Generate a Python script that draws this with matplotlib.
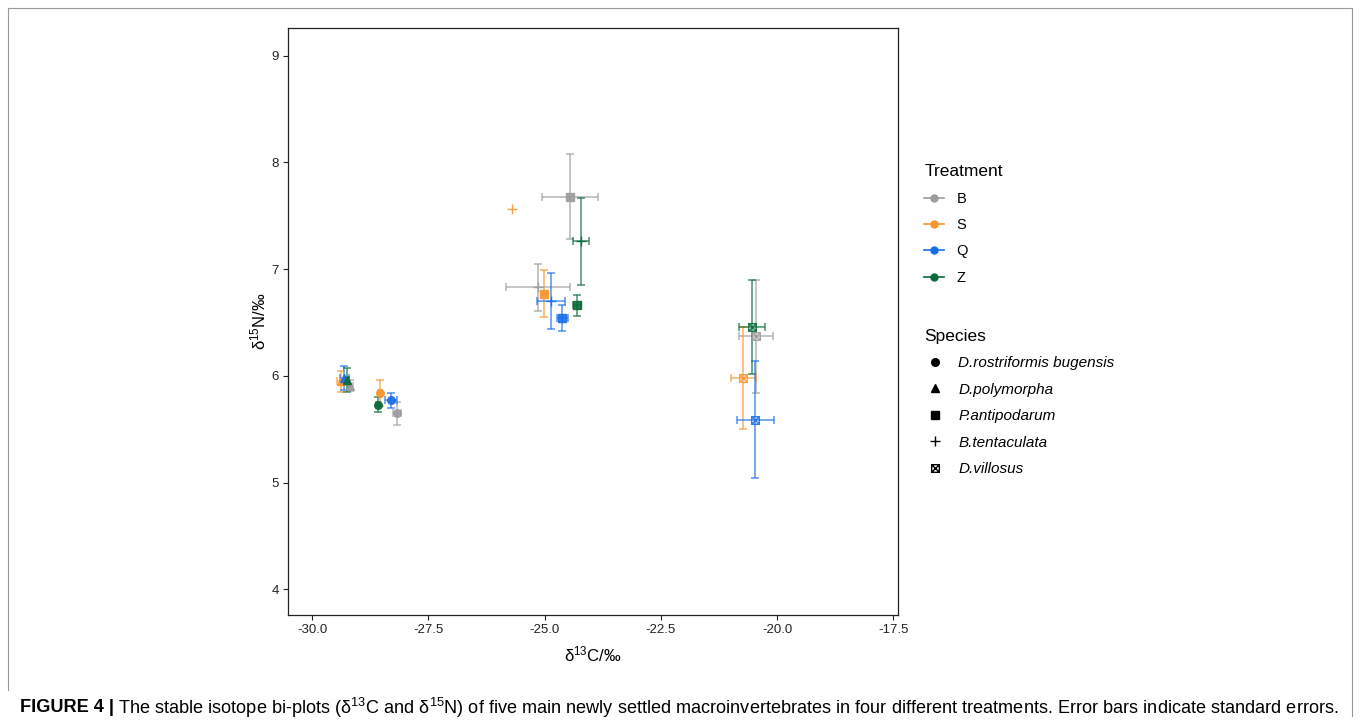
import numpy as np
import matplotlib
matplotlib.use("Agg")
import matplotlib.pyplot as plt
from matplotlib.path import Path
from matplotlib.lines import Line2D
from matplotlib import font_manager

plt.rcParams['font.family'] = ['Liberation Sans', 'DejaVu Sans']
plt.rcParams['mathtext.fontset'] = 'custom'
plt.rcParams['mathtext.rm'] = 'Liberation Sans'
plt.rcParams['mathtext.it'] = 'Liberation Sans:italic'

# treatments and species
treatments = ['B', 'S', 'Q', 'Z']
treat_colors = {'B': '#9c9c9c', 'S': '#f7962f', 'Q': '#1a6ee8', 'Z': '#0b6a3a'}
species = ['D.rostriformis bugensis', 'D.polymorpha', 'P.antipodarum',
           'B.tentaculata', 'D.villosus']

# one row per treatment x species: mean and standard error
pt_treat = ['B', 'S', 'Q', 'Z',
            'B', 'S', 'Q', 'Z',
            'B', 'S', 'Q', 'Z',
            'B', 'S', 'Q', 'Z',
            'B', 'S', 'Q', 'Z']
pt_species = ['D.rostriformis bugensis'] * 4 + ['D.polymorpha'] * 4 + \
             ['P.antipodarum'] * 4 + ['B.tentaculata'] * 4 + ['D.villosus'] * 4
d13c = [-28.17, -28.54, -28.30, -28.58,
        -29.18, -29.38, -29.31, -29.25,
        -24.45, -25.01, -24.62, -24.30,
        -25.14, -25.70, -24.86, -24.21,
        -20.45, -20.73, -20.47, -20.54]
d13c_se = [0.09, 0.04, 0.13, 0.04,
           0.06, 0.08, 0.10, 0.05,
           0.60, 0.05, 0.12, 0.08,
           0.69, np.nan, 0.30, 0.17,
           0.37, 0.27, 0.40, 0.29]
d15n = [5.65, 5.84, 5.77, 5.73,
        5.91, 5.95, 5.98, 5.96,
        7.68, 6.77, 6.54, 6.66,
        6.83, 7.56, 6.70, 7.26,
        6.37, 5.98, 5.59, 6.46]
d15n_se = [0.11, 0.12, 0.07, 0.07,
           0.05, 0.10, 0.11, 0.11,
           0.40, 0.22, 0.12, 0.10,
           0.22, np.nan, 0.26, 0.41,
           0.53, 0.48, 0.55, 0.44]

# square with a cross (ggplot shape 7)
boxx = Path([(-1, -1), (1, -1), (1, 1), (-1, 1), (-1, -1),
             (-1, -1), (1, 1), (-1, 1), (1, -1)],
            [Path.MOVETO, Path.LINETO, Path.LINETO, Path.LINETO, Path.CLOSEPOLY,
             Path.MOVETO, Path.LINETO, Path.MOVETO, Path.LINETO])
sp_marker = {'D.rostriformis bugensis': ('o', 5.5, True),
             'D.polymorpha': ('^', 5.5, True),
             'P.antipodarum': ('s', 5.5, True),
             'B.tentaculata': ('+', 7.5, False),
             'D.villosus': (boxx, 5.5, False)}

fig = plt.figure(figsize=(13.6, 7.28), dpi=100)
ax = fig.add_axes([288/1360, 1-615/728, 610/1360, 587/728])

for i in range(len(d13c)):
    c = treat_colors[pt_treat[i]]
    m, ms, filled = sp_marker[pt_species[i]]
    xe = None if np.isnan(d13c_se[i]) else d13c_se[i]
    ye = None if np.isnan(d15n_se[i]) else d15n_se[i]
    if xe is not None or ye is not None:
        ax.errorbar(d13c[i], d15n[i], xerr=xe, yerr=ye, fmt='none',
                    ecolor=c, alpha=0.75, elinewidth=1.1, capsize=2.6,
                    capthick=1.1, zorder=2)
    ax.plot(d13c[i], d15n[i], linestyle='none', marker=m, markersize=ms,
            color=c, markerfacecolor=c if filled else 'none',
            markeredgewidth=1.0, alpha=0.9, zorder=3)

ax.set_xlim(-30.52, -17.4)
ax.set_ylim(3.76, 9.26)
ax.set_xticks([-30, -27.5, -25, -22.5, -20, -17.5])
ax.set_xticklabels(['-30.0', '-27.5', '-25.0', '-22.5', '-20.0', '-17.5'])
ax.set_yticks([4, 5, 6, 7, 8, 9])
ax.tick_params(direction='out', length=3.5, width=0.8, labelsize=9.5,
               colors='#222222', labelcolor='#222222', pad=3)
for s in ax.spines.values():
    s.set_linewidth(0.9)
    s.set_color('#222222')
ax.set_xlabel(r'$\mathregular{\delta^{13}C/‰}$', fontsize=12, labelpad=6)
ax.set_ylabel(r'$\mathregular{\delta^{15}N/‰}$', fontsize=12, labelpad=2)

# legends
t_handles = [Line2D([0], [0], color=treat_colors[t], marker='o', markersize=5,
                    linewidth=1.2) for t in treatments]
leg1 = fig.legend(t_handles, treatments, title='Treatment', loc='upper left',
                  bbox_to_anchor=(917/1360, 1-157/728), frameon=False,
                  fontsize=10.5, title_fontsize=12.5, labelspacing=0.85,
                  handlelength=1.35, handletextpad=0.85, borderpad=0)
leg1._legend_box.align = 'left'
s_handles = []
for sp in species:
    m, ms, filled = sp_marker[sp]
    s_handles.append(Line2D([0], [0], linestyle='none', marker=m, markersize=ms,
                            color='black',
                            markerfacecolor='black' if filled else 'none'))
leg2 = fig.legend(s_handles, species, title='Species', loc='upper left',
                  bbox_to_anchor=(917/1360, 1-321/728), frameon=False,
                  title_fontsize=12.5, labelspacing=0.82,
                  handlelength=1.35, handletextpad=0.85, borderpad=0,
                  prop={'style': 'italic', 'size': 11})
leg2._legend_box.align = 'left'

# figure frame
fig.add_artist(Line2D([8/1360, 1352/1360], [1-8/728, 1-8/728], color='#999999', lw=0.8))
fig.add_artist(Line2D([8/1360, 8/1360], [1-8/728, 1-690/728], color='#999999', lw=0.8))
fig.add_artist(Line2D([1352/1360, 1352/1360], [1-8/728, 1-716/728], color='#999999', lw=0.8))

# caption
names = {f.name for f in font_manager.fontManager.ttflist}
cap_font = ['Liberation Sans Narrow', 'Liberation Sans', 'DejaVu Sans'] \
    if 'Liberation Sans Narrow' in names else ['Liberation Sans', 'DejaVu Sans']
cap_y = 1 - 708/728
t1 = fig.text(20/1360, cap_y, 'FIGURE 4 |', fontsize=12, fontweight='bold',
              family=cap_font, va='center', ha='left')
fig.canvas.draw()
r = fig.canvas.get_renderer()
bb = t1.get_window_extent(r)
t2 = fig.text((bb.x1 + 4)/1360, cap_y,
              'The stable isotope bi-plots (δ$^{13}$C and δ$^{15}$N) of five main newly '
              'settled macroinvertebrates in four different treatments. '
              'Error bars indicate standard errors.',
              fontsize=12, family=cap_font, va='center', ha='left')
fig.canvas.draw()
bb2 = t2.get_window_extent(r)
scale = (1340 - bb.x0) / (bb2.x1 - bb.x0)
t1.set_fontsize(12*scale)
t2.set_fontsize(12*scale)
fig.canvas.draw()
bb = t1.get_window_extent(r)
t2.set_x((bb.x1 + 4)/1360)

fig.savefig('out.png', dpi=100)
